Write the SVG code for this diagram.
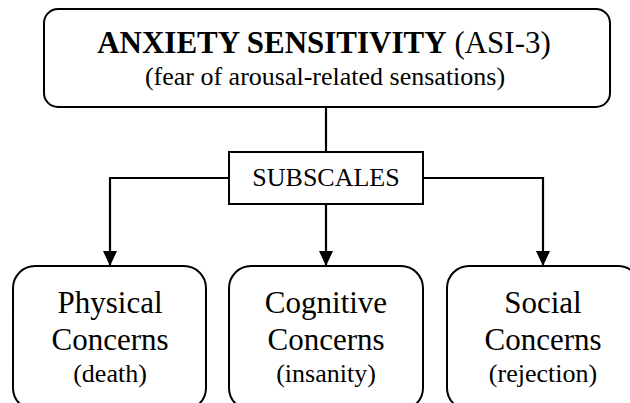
<svg xmlns="http://www.w3.org/2000/svg" width="630" height="403" viewBox="0 0 630 403">
<style>
.box{fill:#fff;stroke:#000;stroke-width:2}
.t{font-family:"Liberation Serif","Times New Roman",serif;fill:#000;text-anchor:middle}
.conn{fill:none;stroke:#000;stroke-width:2.2}
</style>
<defs>
<marker id="arr" markerUnits="userSpaceOnUse" markerWidth="16" markerHeight="16" viewBox="0 0 16 16" refX="15" refY="8" orient="auto">
<path d="M0,1 L15,8 L0,15 Z" fill="#000"/>
</marker>
</defs>
<rect width="630" height="403" fill="#fff"/>
<g id="connectors">
<line class="conn" x1="326" y1="107" x2="326" y2="152"/>
<polyline class="conn" points="229,178 110,178 110,266" marker-end="url(#arr)"/>
<polyline class="conn" points="423,178 543,178 543,266" marker-end="url(#arr)"/>
<line class="conn" x1="326" y1="204" x2="326" y2="266" marker-end="url(#arr)"/>
</g>
<g id="anxiety">
<rect class="box" x="44" y="9" width="566" height="98" rx="14"/>
<text class="t" x="324" y="53" font-size="31"><tspan font-weight="bold">ANXIETY SENSITIVITY</tspan> (ASI-3)</text>
<text class="t" x="325" y="85" font-size="26">(fear of arousal-related sensations)</text>
</g>
<g id="subscales">
<rect class="box" x="229" y="152" width="194" height="52"/>
<text class="t" x="326" y="186" font-size="26">SUBSCALES</text>
</g>
<g id="physical">
<rect class="box" x="13" y="266" width="193" height="144" rx="22"/>
<text class="t" x="110" y="313" font-size="31">Physical</text>
<text class="t" x="110" y="350" font-size="31">Concerns</text>
<text class="t" x="110" y="382" font-size="26">(death)</text>
</g>
<g id="cognitive">
<rect class="box" x="229" y="266" width="194" height="144" rx="22"/>
<text class="t" x="326" y="313" font-size="31">Cognitive</text>
<text class="t" x="326" y="350" font-size="31">Concerns</text>
<text class="t" x="326" y="382" font-size="26">(insanity)</text>
</g>
<g id="social">
<rect class="box" x="447" y="266" width="193" height="144" rx="22"/>
<text class="t" x="543" y="313" font-size="31">Social</text>
<text class="t" x="543" y="350" font-size="31">Concerns</text>
<text class="t" x="543" y="382" font-size="26">(rejection)</text>
</g>
</svg>
